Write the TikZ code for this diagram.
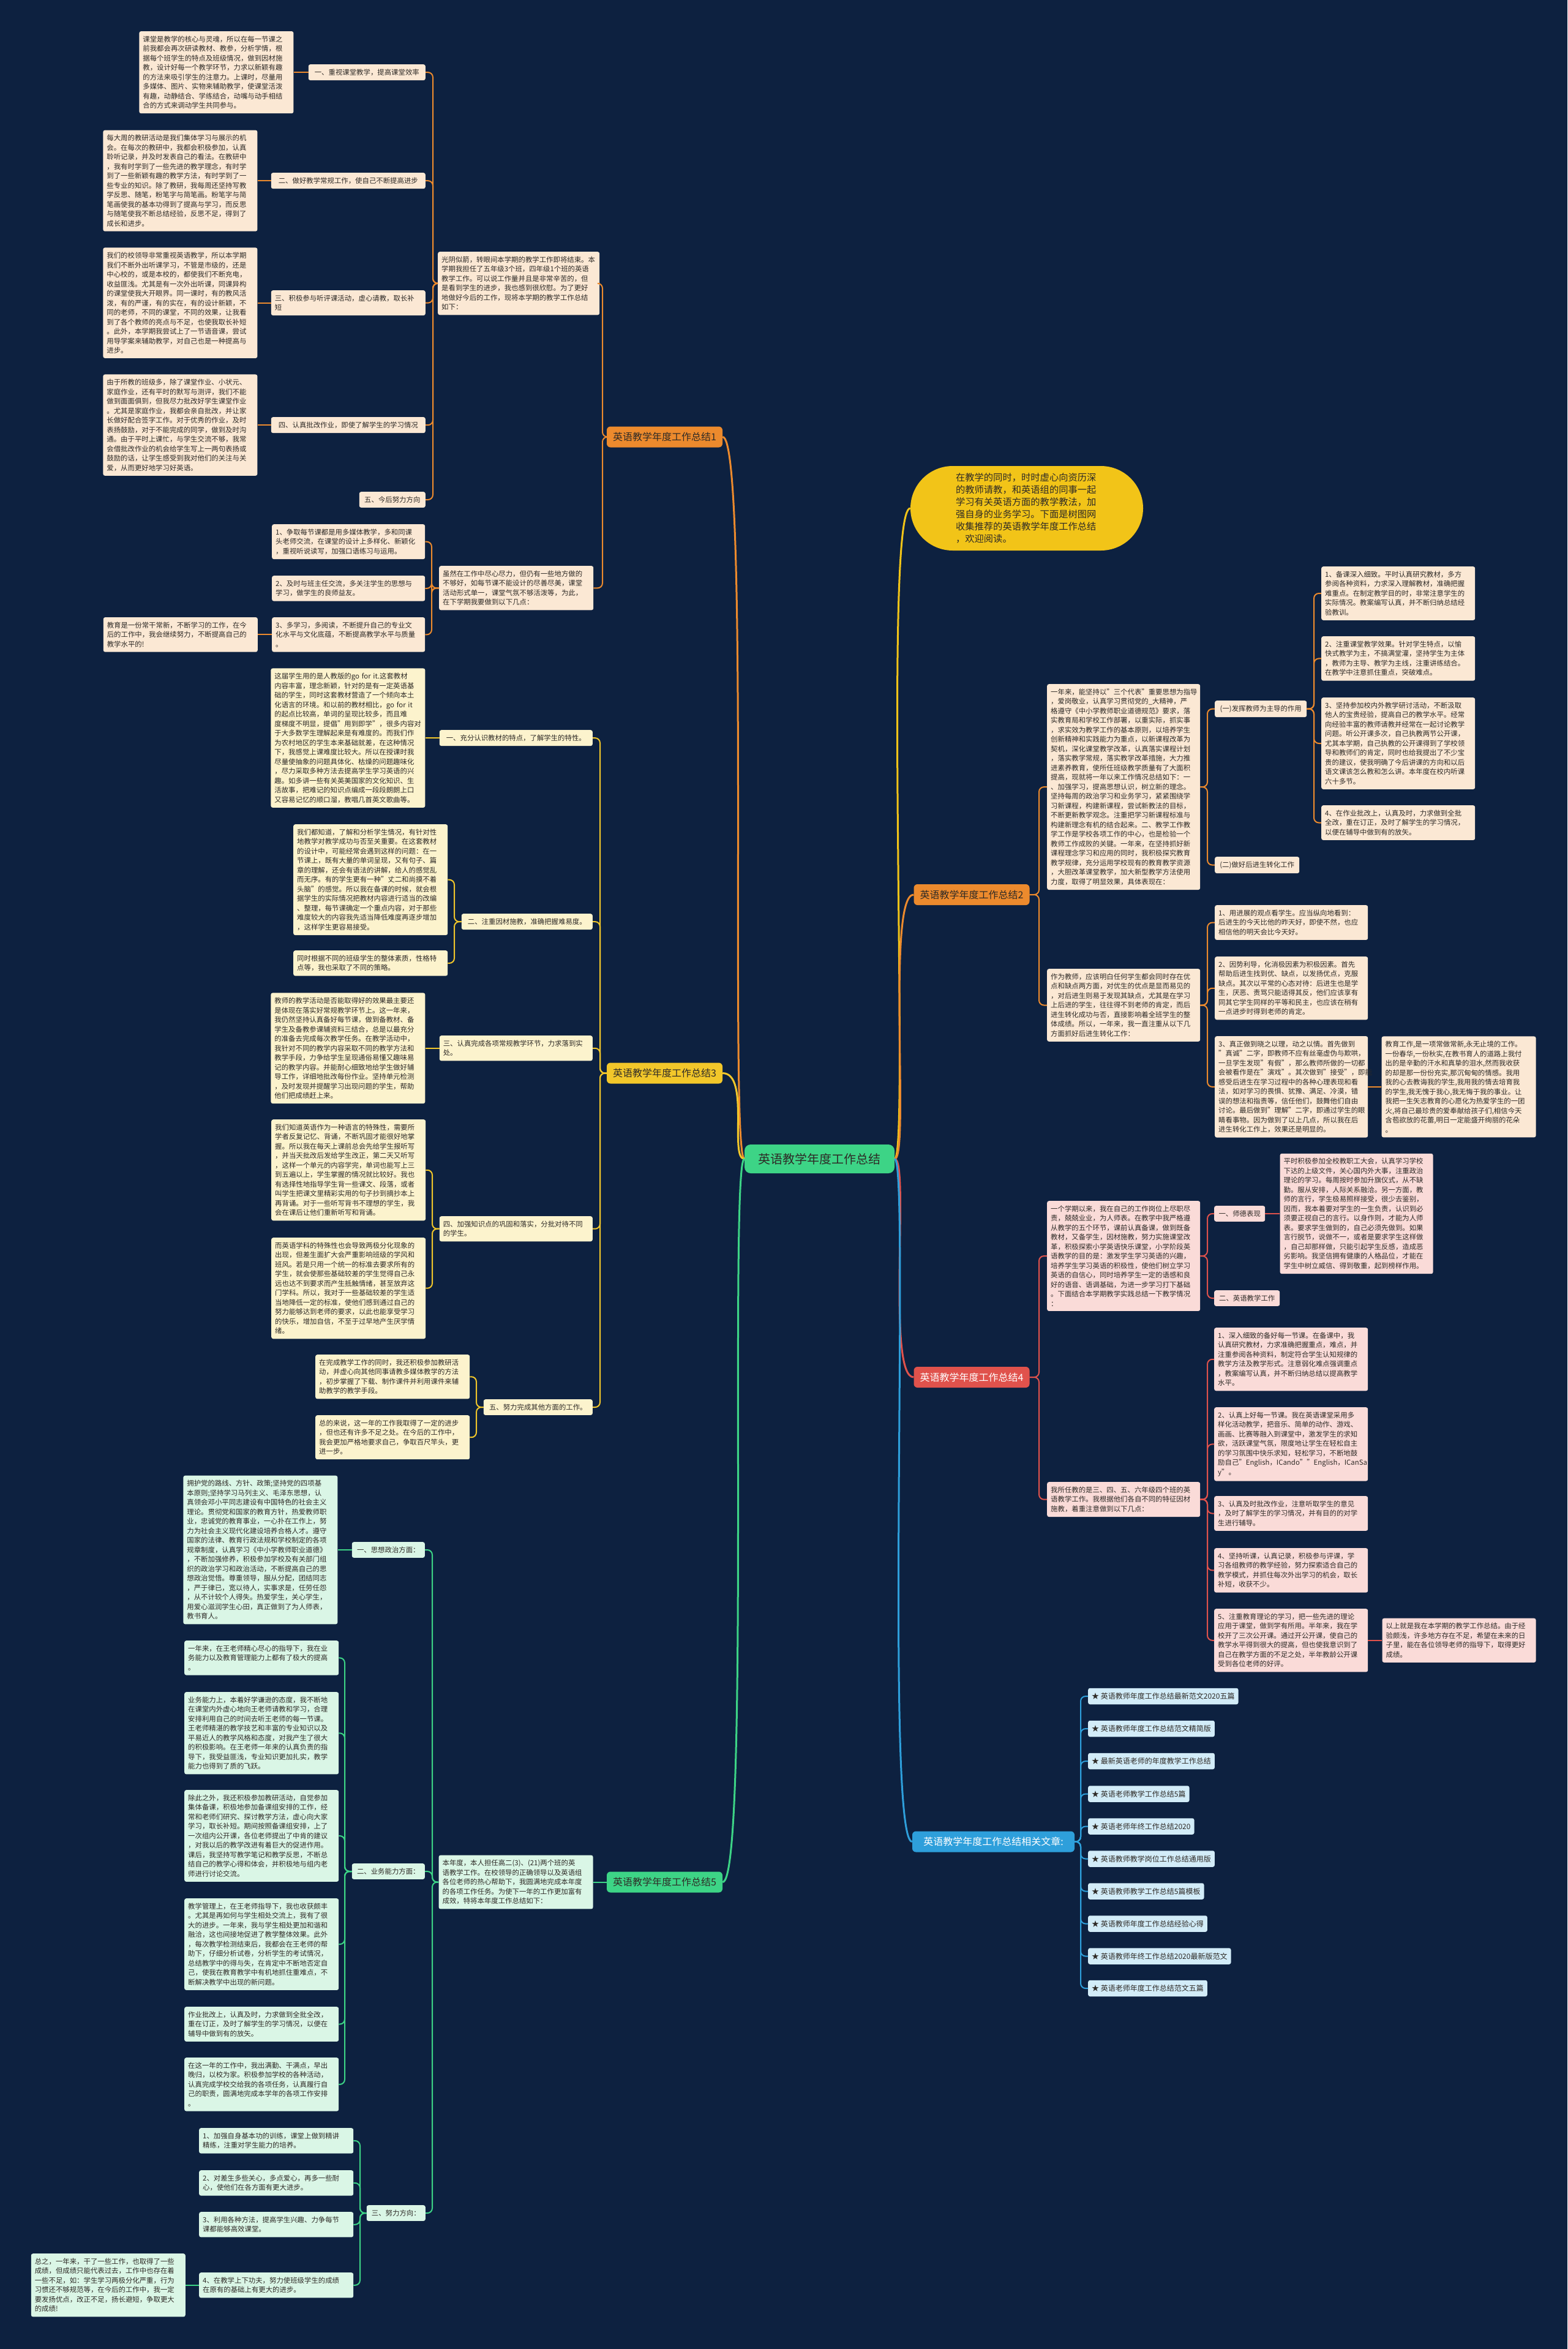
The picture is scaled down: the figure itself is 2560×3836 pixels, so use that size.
\documentclass[tikz,border=0pt]{standalone}
\usepackage{fontspec}
\setmainfont{Noto Sans CJK SC}
\usetikzlibrary{positioning}

\definecolor{bg}{HTML}{0D2140}
\definecolor{ink}{HTML}{2E2A26}
\definecolor{orng}{HTML}{EC8A2D}
\definecolor{ylw}{HTML}{F2C72A}
\definecolor{grn}{HTML}{3DD486}
\definecolor{rd}{HTML}{E0524C}
\definecolor{blu}{HTML}{2E9FDB}
\definecolor{pch}{HTML}{FBE8D4}
\definecolor{crm}{HTML}{FCF3CD}
\definecolor{mnt}{HTML}{DAF6E6}
\definecolor{pnk}{HTML}{FADBD8}
\definecolor{sky}{HTML}{D2ECF8}
\definecolor{notey}{HTML}{F2C418}

\newcommand\lf{\fontsize{11.4}{15.5}\selectfont}

\begin{document}
\begin{tikzpicture}[x=1pt, y=-1pt, font=\lf, text=ink]
    % Styles
    \tikzstyle{leaf} = [rounded corners=3pt, inner xsep=6pt, inner ysep=7.5pt, text width=240pt, align=left, anchor=north west]
    \tikzstyle{tag} = [rounded corners=3pt, inner xsep=6pt, inner ysep=7.5pt, align=center]
    \tikzstyle{head} = [rounded corners=6pt, minimum width=189pt, minimum height=34pt, inner sep=4pt, font=\fontsize{16}{19}\selectfont]
    \tikzstyle{rel} = [anchor=west, fill=sky, rounded corners=3pt, inner xsep=6pt, minimum height=26.5pt, font=\fontsize{12}{14}\selectfont]
    \tikzstyle{note} = [fill=notey, rounded corners=69pt, minimum width=380pt, minimum height=138pt, text width=232pt, align=left, font=\fontsize{15.3}{20}\selectfont]
    \tikzstyle{wire} = [line width=2pt, rounded corners=8pt]
    \tikzstyle{curve} = [line width=3pt]

    \useasboundingbox (0,0) rectangle (2560,3836);
    \fill[bg] (0,0) rectangle (2560,3836);

    % Root and branch heads
    \node[fill=grn, rounded corners=10pt, minimum width=245pt, minimum height=47pt, font=\fontsize{20}{24}\selectfont] (root) at (1338.5,1892.5) {英语教学年度工作总结};
    \node[note] (intro) at (1677,830) {在教学的同时，时时虚心向资历深\\的教师请教，和英语组的同事一起\\学习有关英语方面的教学教法，加\\强自身的业务学习。下面是树图网\\收集推荐的英语教学年度工作总结\\，欢迎阅读。};
    \node[head, fill=orng] (b1) at (1085.5,713.5) {英语教学年度工作总结1};
    \node[head, fill=orng] (b2) at (1587,1461) {英语教学年度工作总结2};
    \node[head, fill=ylw] (b3) at (1085.5,1752.5) {英语教学年度工作总结3};
    \node[head, fill=rd, text=white] (b4) at (1587,2249) {英语教学年度工作总结4};
    \node[head, fill=grn] (b5) at (1085.5,3073.5) {英语教学年度工作总结5};
    \node[head, fill=blu, text=white, minimum width=265pt] (b6) at (1622.5,3007.5) {英语教学年度工作总结相关文章:};

    % Branch 1
    \node[leaf, fill=pch, text width=252pt] (b1intro) at (715,411) {光阴似箭，转眼间本学期的教学工作即将结束。本\\学期我担任了五年级3个班，四年级1个班的英语\\教学工作。可以说工作量并且是非常辛苦的，但\\是看到学生的进步，我也感到很欣慰。为了更好\\地做好今后的工作，现将本学期的教学工作总结\\如下：};
    \node[leaf, fill=pch] (b1plan) at (717,924) {虽然在工作中尽心尽力，但仍有一些地方做的\\不够好，如每节课不能设计的尽善尽美，课堂\\活动形式单一，课堂气氛不够活泼等，为此，\\在下学期我要做到以下几点：};
    \node[tag, fill=pch, anchor=north east, minimum width=191pt] (b1s1) at (695,105) {一、重视课堂教学，提高课堂效率};
    \node[tag, fill=pch, anchor=north east, minimum width=252pt] (b1s2) at (695,282) {二、做好教学常规工作，使自己不断提高进步};
    \node[leaf, fill=pch, anchor=north east] (b1s3) at (695,474) {三、积极参与听评课活动，虚心请教，取长补\\短};
    \node[tag, fill=pch, anchor=north east, minimum width=252pt] (b1s4) at (695,681) {四、认真批改作业，即使了解学生的学习情况};
    \node[tag, fill=pch, anchor=north east, minimum width=108pt] (b1s5) at (695,803) {五、今后努力方向};
    \node[leaf, fill=pch, left=24pt of b1s1] (b1t1) {课堂是教学的核心与灵魂，所以在每一节课之\\前我都会再次研读教材、教参，分析学情，根\\据每个班学生的特点及班级情况，做到因材施\\教，设计好每一个教学环节，力求以新颖有趣\\的方法来吸引学生的注意力。上课时，尽量用\\多媒体、图片、实物来辅助教学，使课堂活泼\\有趣，动静结合、学练结合，动嘴与动手相结\\合的方式来调动学生共同参与。};
    \node[leaf, fill=pch, left=22pt of b1s2] (b1t2) {每大周的教研活动是我们集体学习与展示的机\\会。在每次的教研中，我都会积极参加，认真\\聆听记录，并及时发表自己的看法。在教研中\\，我有时学到了一些先进的教学理念，有时学\\到了一些新颖有趣的教学方法，有时学到了一\\些专业的知识。除了教研，我每周还坚持写教\\学反思、随笔，粉笔字与简笔画。粉笔字与简\\笔画使我的基本功得到了提高与学习，而反思\\与随笔使我不断总结经验，反思不足，得到了\\成长和进步。};
    \node[leaf, fill=pch, left=22pt of b1s3] (b1t3) {我们的校领导非常重视英语教学，所以本学期\\我们不断外出听课学习，不管是市级的，还是\\中心校的，或是本校的，都使我们不断充电，\\收益匪浅。尤其是有一次外出听课，同课异构\\的课堂使我大开眼界。同一课时，有的教风活\\泼，有的严谨，有的实在，有的设计新颖，不\\同的老师，不同的课堂，不同的效果，让我看\\到了各个教师的亮点与不足，也使我取长补短\\。此外，本学期我尝试上了一节语音课，尝试\\用导学案来辅助教学，对自己也是一种提高与\\进步。};
    \node[leaf, fill=pch, left=22pt of b1s4] (b1t4) {由于所教的班级多，除了课堂作业、小状元、\\家庭作业，还有平时的默写与测评，我们不能\\做到面面俱到，但我尽力批改好学生课堂作业\\。尤其是家庭作业，我都会亲自批改，并让家\\长做好配合签字工作。对于优秀的作业，及时\\表扬鼓励，对于不能完成的同学，做到及时沟\\通。由于平时上课忙，与学生交流不够，我常\\会借批改作业的机会给学生写上一两句表扬或\\鼓励的话，让学生感受到我对他们的关注与关\\爱，从而更好地学习好英语。};
    \node[leaf, fill=pch, text width=238pt] (b1p1) at (444,856) {1、争取每节课都是用多媒体教学，多和同课\\头老师交流，在课堂的设计上多样化、新颖化\\，重视听说读写，加强口语练习与运用。};
    \node[leaf, fill=pch, text width=238pt] (b1p2) at (444,940) {2、及时与班主任交流，多关注学生的思想与\\学习，做学生的良师益友。};
    \node[leaf, fill=pch, text width=238pt] (b1p3) at (444,1008) {3、多学习，多阅读，不断提升自己的专业文\\化水平与文化底蕴，不断提高教学水平与质量\\。};
    \node[leaf, fill=pch, left=23pt of b1p3] (b1end) {教育是一份常干常新，不断学习的工作，在今\\后的工作中，我会继续努力，不断提高自己的\\教学水平的!};

    % Branch 3
    \node[tag, fill=crm, anchor=north east, minimum width=250pt] (b3s1) at (968,1192) {一、充分认识教材的特点，了解学生的特性。};
    \node[tag, fill=crm, anchor=north east, minimum width=214pt] (b3s2) at (968,1492) {二、注重因材施教，准确把握难易度。};
    \node[leaf, fill=crm, anchor=north east, text width=238pt] (b3s3) at (968,1691) {三、认真完成各项常规教学环节，力求落到实\\处。};
    \node[leaf, fill=crm, anchor=north east, text width=238pt] (b3s4) at (968,1986) {四、加强知识点的巩固和落实，分批对待不同\\的学生。};
    \node[tag, fill=crm, anchor=north east, minimum width=178pt] (b3s5) at (968,2285) {五、努力完成其他方面的工作。};
    \node[leaf, fill=crm, left=23pt of b3s1] (b3t1) {这届学生用的是人教版的go for it.这套教材\\内容丰富，理念新颖，针对的是有一定英语基\\础的学生，同时这套教材营造了一个倾向本土\\化语言的环境。和以前的教材相比，go for it\\ 的起点比较高，单词的呈现比较多，而且难\\度梯度不明显，提倡"用到即学"，很多内容对\\于大多数学生理解起来是有难度的。而我们作\\为农村地区的学生本来基础就差，在这种情况\\下，我感觉上课难度比较大。所以在授课时我\\尽量使抽象的问题具体化、枯燥的问题趣味化\\，尽力采取多种方法去提高学生学习英语的兴\\趣。如多讲一些有关英美国家的文化知识、生\\活故事，把难记的知识点编成一段段朗朗上口\\又容易记忆的顺口溜，教唱几首英文歌曲等。};
    \node[leaf, fill=crm] (b3t2a) at (479,1346) {我们都知道，了解和分析学生情况，有针对性\\地教学对教学成功与否至关重要。在这套教材\\的设计中，可能经常会遇到这样的问题：在一\\节课上，既有大量的单词呈现，又有句子、篇\\章的理解，还会有语法的讲解，给人的感觉乱\\而无序。有的学生更有一种"丈二和尚摸不着\\头脑"的感觉。所以我在备课的时候，就会根\\据学生的实际情况把教材内容进行适当的改编\\、整理，每节课确定一个重点内容，对于那些\\难度较大的内容我先适当降低难度再逐步增加\\，这样学生更容易接受。};
    \node[leaf, fill=crm] (b3t2b) at (479,1552) {同时根据不同的班级学生的整体素质，性格特\\点等，我也采取了不同的策略。};
    \node[leaf, fill=crm, left=23pt of b3s3] (b3t3) {教师的教学活动是否能取得好的效果最主要还\\是体现在落实好常规教学环节上。这一年来，\\我仍然坚持认真备好每节课，做到备教材、备\\学生及备教参课辅资料三结合，总是以最充分\\的准备去完成每次教学任务。在教学活动中，\\我针对不同的教学内容采取不同的教学方法和\\教学手段，力争给学生呈现通俗易懂又趣味易\\记的教学内容。并能耐心细致地给学生做好辅\\导工作，详细地批改每份作业。坚持单元检测\\，及时发现并提醒学习出现问题的学生，帮助\\他们把成绩赶上来。};
    \node[leaf, fill=crm] (b3t4a) at (443,1828) {我们知道英语作为一种语言的特殊性，需要所\\学者反复记忆、背诵，不断巩固才能很好地掌\\握。所以我在每天上课前总会先给学生报听写\\，并当天批改后发给学生改正，第二天又听写\\，这样一个单元的内容学完，单词也能写上三\\到五遍以上，学生掌握的情况就比较好。我也\\有选择性地指导学生背一些课文、段落，或者\\叫学生把课文里精彩实用的句子抄到摘抄本上\\再背诵。对于一些听写背书不理想的学生，我\\会在课后让他们重新听写和背诵。};
    \node[leaf, fill=crm] (b3t4b) at (443,2021) {而英语学科的特殊性也会导致两极分化现象的\\出现，但差生面扩大会严重影响班级的学风和\\班风。若是只用一个统一的标准去要求所有的\\学生，就会使那些基础较差的学生觉得自己永\\远也达不到要求而产生抵触情绪，甚至放弃这\\门学科。所以，我对于一些基础较差的学生适\\当地降低一定的标准，使他们感到通过自己的\\努力能够达到老师的要求，以此也能享受学习\\的快乐，增加自信，不至于过早地产生厌学情\\绪。};
    \node[leaf, fill=crm] (b3t5a) at (515,2212) {在完成教学工作的同时，我还积极参加教研活\\动，并虚心向其他同事请教多媒体教学的方法\\，初步掌握了下载、制作课件并利用课件来辅\\助教学的教学手段。};
    \node[leaf, fill=crm] (b3t5b) at (515,2311) {总的来说，这一年的工作我取得了一定的进步\\，但也还有许多不足之处。在今后的工作中，\\我会更加严格地要求自己，争取百尺竿头，更\\进一步。};

    % Branch 5
    \node[leaf, fill=mnt, left=22pt of b5] (b5intro) {本年度，本人担任高二(3)、(21)两个班的英\\语教学工作。在校领导的正确领导以及英语组\\各位老师的热心帮助下，我圆满地完成本年度\\的各项工作任务。为使下一年的工作更加富有\\成效，特将本年度工作总结如下：};
    \node[tag, fill=mnt, anchor=north east, minimum width=119pt] (b5s1) at (694,2518) {一、思想政治方面：};
    \node[tag, fill=mnt, anchor=north east, minimum width=119pt] (b5s2) at (694,3043) {二、业务能力方面：};
    \node[tag, fill=mnt, anchor=north east, minimum width=96pt] (b5s3) at (695,3601) {三、努力方向：};
    \node[leaf, fill=mnt, left=23pt of b5s1] (b5t1) {拥护党的路线、方针、政策;坚持党的四项基\\本原则;坚持学习马列主义、毛泽东思想，认\\真领会邓小平同志建设有中国特色的社会主义\\理论。贯彻党和国家的教育方针，热爱教师职\\业，忠诚党的教育事业，一心扑在工作上，努\\力为社会主义现代化建设培养合格人才。遵守\\国家的法律、教育行政法规和学校制定的各项\\规章制度，认真学习《中小学教师职业道德》\\，不断加强修养，积极参加学校及有关部门组\\织的政治学习和政治活动，不断提高自己的思\\想政治觉悟。尊重领导，服从分配，团结同志\\，严于律已，宽以待人，实事求是，任劳任怨\\，从不计较个人得失。热爱学生，关心学生，\\用爱心滋润学生心田，真正做到了为人师表，\\教书育人。};
    \node[leaf, fill=mnt] (b5t2a) at (301,2679) {一年来，在王老师精心尽心的指导下，我在业\\务能力以及教育管理能力上都有了极大的提高\\。};
    \node[leaf, fill=mnt] (b5t2b) at (301,2763) {业务能力上，本着好学谦逊的态度，我不断地\\在课堂内外虚心地向王老师请教和学习，合理\\安排利用自己的时间去听王老师的每一节课。\\王老师精湛的教学技艺和丰富的专业知识以及\\平易近人的教学风格和态度，对我产生了很大\\的积极影响。在王老师一年来的认真负责的指\\导下，我受益匪浅，专业知识更加扎实，教学\\能力也得到了质的飞跃。};
    \node[leaf, fill=mnt] (b5t2c) at (301,2923) {除此之外，我还积极参加教研活动，自觉参加\\集体备课，积极地参加备课组安排的工作，经\\常和老师们研究、探讨教学方法，虚心向大家\\学习，取长补短。期间按照备课组安排，上了\\一次组内公开课，各位老师提出了中肯的建议\\，对我以后的教学改进有着巨大的促进作用。\\课后，我坚持写教学笔记和教学反思，不断总\\结自己的教学心得和体会，并积极地与组内老\\师进行讨论交流。};
    \node[leaf, fill=mnt] (b5t2d) at (301,3100) {教学管理上，在王老师指导下，我也收获颇丰\\。尤其是再如何与学生相处交流上，我有了很\\大的进步。一年来，我与学生相处更加和谐和\\融洽，这也间接地促进了教学整体效果。此外\\，每次教学检测结束后，我都会在王老师的帮\\助下，仔细分析试卷，分析学生的考试情况，\\总结教学中的得与失，在肯定中不断地否定自\\己，使我在教育教学中有机地抓住重难点，不\\断解决教学中出现的新问题。};
    \node[leaf, fill=mnt] (b5t2e) at (301,3277) {作业批改上，认真及时，力求做到全批全改，\\重在订正，及时了解学生的学习情况，以便在\\辅导中做到有的放矢。};
    \node[leaf, fill=mnt] (b5t2f) at (301,3360) {在这一年的工作中，我出满勤、干满点，早出\\晚归，以校为家。积极参加学校的各种活动，\\认真完成学校交给我的各项任务，认真履行自\\己的职责，圆满地完成本学年的各项工作安排\\。};
    \node[leaf, fill=mnt] (b5p1) at (325,3475) {1、加强自身基本功的训练，课堂上做到精讲\\精练，注重对学生能力的培养。};
    \node[leaf, fill=mnt] (b5p2) at (325,3544) {2、对差生多些关心，多点爱心，再多一些耐\\心，使他们在各方面有更大进步。};
    \node[leaf, fill=mnt] (b5p3) at (325,3612) {3、利用各种方法，提高学生兴趣、力争每节\\课都能够高效课堂。};
    \node[leaf, fill=mnt] (b5p4) at (325,3711) {4、在教学上下功夫，努力使班级学生的成绩\\在原有的基础上有更大的进步。};
    \node[leaf, fill=mnt, left=22pt of b5p4] (b5end) {总之，一年来，干了一些工作，也取得了一些\\成绩，但成绩只能代表过去，工作中也存在着\\一些不足，如：学生学习两极分化严重，行为\\习惯还不够规范等，在今后的工作中，我一定\\要发扬优点，改正不足，扬长避短，争取更大\\的成绩!};

    % Branch 2
    \node[leaf, fill=pch, text width=238pt] (b2introa) at (1710,1117) {一年来，能坚持以"三个代表"重要思想为指导\\，爱岗敬业，认真学习贯彻党的\_大精神，严\\格遵守《中小学教师职业道德规范》要求，落\\实教育局和学校工作部署，以重实际，抓实事\\，求实效为教学工作的基本原则，以培养学生\\创新精神和实践能力为重点，以新课程改革为\\契机，深化课堂教学改革，认真落实课程计划\\，落实教学常规，落实教学改革措施，大力推\\进素养教育，使所任班级教学质量有了大面积\\提高，现就将一年以来工作情况总结如下：一\\、加强学习，提高思想认识，树立新的理念。\\坚持每周的政治学习和业务学习，紧紧围绕学\\习新课程，构建新课程，尝试新教法的目标，\\不断更新教学观念。注重把学习新课程标准与\\构建新理念有机的结合起来。二、教学工作教\\学工作是学校各项工作的中心，也是检验一个\\教师工作成败的关键。一年来，在坚持抓好新\\课程理念学习和应用的同时，我积极探究教育\\教学规律，充分运用学校现有的教育教学资源\\，大胆改革课堂教学，加大新型教学方法使用\\力度，取得了明显效果，具体表现在：};
    \node[leaf, fill=pch, text width=238pt] (b2introb) at (1710,1582) {作为教师，应该明白任何学生都会同时存在优\\点和缺点两方面，对优生的优点是显而易见的\\，对后进生则易于发现其缺点，尤其是在学习\\上后进的学生，往往得不到老师的肯定，而后\\进生转化成功与否，直接影响着全班学生的整\\体成绩。所以，一年来，我一直注重从以下几\\方面抓好后进生转化工作：};
    \node[tag, fill=pch, anchor=north west, minimum width=150pt] (b2s1) at (1984,1144) {(一)发挥教师为主导的作用};
    \node[tag, fill=pch, anchor=north west, minimum width=138pt] (b2s2) at (1984,1399) {(二)做好后进生转化工作};
    \node[leaf, fill=pch, text width=239pt] (b2t1) at (2158,925) {1、备课深入细致。平时认真研究教材，多方\\参阅各种资料，力求深入理解教材，准确把握\\难重点。在制定教学目的时，非常注意学生的\\实际情况。教案编写认真，并不断归纳总结经\\验教训。};
    \node[leaf, fill=pch, text width=239pt] (b2t2) at (2158,1039) {2、注重课堂教学效果。针对学生特点，以愉\\快式教学为主，不搞满堂灌，坚持学生为主体\\，教师为主导、教学为主线，注重讲练结合。\\在教学中注意抓住重点，突破难点。};
    \node[leaf, fill=pch, text width=239pt] (b2t3) at (2158,1139) {3、坚持参加校内外教学研讨活动，不断汲取\\他人的宝贵经验，提高自己的教学水平。经常\\向经验丰富的教师请教并经常在一起讨论教学\\问题。听公开课多次，自己执教两节公开课，\\尤其本学期，自己执教的公开课得到了学校领\\导和教师们的肯定，同时也给我提出了不少宝\\贵的建议，使我明确了今后讲课的方向和以后\\语文课该怎么教和怎么讲。本年度在校内听课\\六十多节。};
    \node[leaf, fill=pch, text width=239pt] (b2t4) at (2158,1315) {4、在作业批改上，认真及时，力求做到全批\\全改，重在订正，及时了解学生的学习情况，\\以便在辅导中做到有的放矢。};
    \node[leaf, fill=pch, text width=238pt] (b2u1) at (1984,1478) {1、用进展的观点看学生。应当纵向地看到：\\后进生的今天比他的昨天好，即使不然，也应\\相信他的明天会比今天好。};
    \node[leaf, fill=pch, text width=238pt] (b2u2) at (1984,1562) {2、因势利导，化消极因素为积极因素。首先\\帮助后进生找到优、缺点，以发扬优点，克服\\缺点。其次以平常的心态对待：后进生也是学\\生，厌恶、责骂只能适得其反，他们应该享有\\同其它学生同样的平等和民主，也应该在稍有\\一点进步时得到老师的肯定。};
    \node[leaf, fill=pch, text width=238pt] (b2u3) at (1984,1692) {3、真正做到晓之以理，动之以情。首先做到\\"真诚"二字，即教师不应有丝毫虚伪与欺哄，\\一旦学生发现"有假"，那么教师所做的一切都\\会被看作是在"演戏"。其次做到"接受"，即能\\感受后进生在学习过程中的各种心理表现和看\\法，如对学习的畏惧、犹豫、满足、冷漠，错\\误的想法和指责等，信任他们，鼓舞他们自由\\讨论。最后做到"理解"二字，即通过学生的眼\\睛看事物。因为做到了以上几点，所以我在后\\进生转化工作上，效果还是明显的。};
    \node[leaf, fill=pch, right=22pt of b2u3] (b2end) {教育工作,是一项常做常新,永无止境的工作。\\一份春华,一份秋实,在教书育人的道路上我付\\出的是辛勤的汗水和真挚的泪水,然而我收获\\的却是那一份份充实,那沉甸甸的情感。我用\\我的心去教诲我的学生,我用我的情去培育我\\的学生,我无愧于我心,我无悔于我的事业。让\\我把一生矢志教育的心愿化为热爱学生的一团\\火,将自己最珍贵的爱奉献给孩子们,相信今天\\含苞欲放的花蕾,明日一定能盛开绚丽的花朵\\。};

    % Branch 4
    \node[leaf, fill=pnk, text width=238pt] (b4intro) at (1710,1961) {一个学期以来，我在自己的工作岗位上尽职尽\\责，兢兢业业，为人师表。在教学中我严格遵\\从教学的五个环节，课前认真备课，做到既备\\教材，又备学生，因材施教，努力实施课堂改\\革，积极探索小学英语快乐课堂，小学阶段英\\语教学的目的是：激发学生学习英语的兴趣，\\培养学生学习英语的积极性，使他们树立学习\\英语的自信心，同时培养学生一定的语感和良\\好的语音、语调基础，为进一步学习打下基础\\。下面结合本学期教学实践总结一下教学情况\\：};
    \node[leaf, fill=pnk, text width=238pt] (b4introb) at (1710,2420) {我所任教的是三、四、五、六年级四个班的英\\语教学工作。我根据他们各自不同的特征因材\\施教，着重注意做到以下几点：};
    \node[tag, fill=pnk, anchor=north west, minimum width=83pt] (b4s1) at (1983,1969) {一、师德表现};
    \node[tag, fill=pnk, anchor=north west, minimum width=107pt] (b4s2) at (1983,2107) {二、英语教学工作};
    \node[leaf, fill=pnk, text width=238pt, right=24pt of b4s1] (b4t1) {平时积极参加全校教职工大会，认真学习学校\\下达的上级文件，关心国内外大事，注重政治\\理论的学习。每周按时参加升旗仪式，从不缺\\勤。服从安排，人际关系融洽。另一方面，教\\师的言行，学生极易照样接受，很少去鉴别，\\因而，我本着要对学生的一生负责，认识到必\\须要正视自己的言行。以身作则，才能为人师\\表。要求学生做到的，自己必须先做到。如果\\言行脱节，说做不一，或者是要求学生这样做\\，自己却那样做，只能引起学生反感，造成恶\\劣影响。我坚信拥有健康的人格品位，才能在\\学生中树立威信、得到敬重，起到榜样作用。};
    \node[leaf, fill=pnk, text width=239pt] (b4p1) at (1983,2168) {1、深入细致的备好每一节课。在备课中，我\\认真研究教材，力求准确把握重点，难点，并\\注重参阅各种资料，制定符合学生认知规律的\\教学方法及教学形式。注意弱化难点强调重点\\，教案编写认真，并不断归纳总结以提高教学\\水平。};
    \node[leaf, fill=pnk, text width=239pt] (b4p2) at (1983,2298) {2、认真上好每一节课。我在英语课堂采用多\\样化活动教学，把音乐、简单的动作、游戏、\\画画、比赛等融入到课堂中，激发学生的求知\\欲，活跃课堂气氛，限度地让学生在轻松自主\\的学习氛围中快乐求知，轻松学习，不断地鼓\\励自己"English，ICando""English，ICanSa\\y"。};
    \node[leaf, fill=pnk, text width=239pt] (b4p3) at (1983,2443) {3、认真及时批改作业，注意听取学生的意见\\，及时了解学生的学习情况，并有目的的对学\\生进行辅导。};
    \node[leaf, fill=pnk, text width=239pt] (b4p4) at (1983,2528) {4、坚持听课，认真记录，积极参与评课，学\\习各组教师的教学经验，努力探索适合自己的\\教学模式，并抓住每次外出学习的机会，取长\\补短，收获不少。};
    \node[leaf, fill=pnk, text width=239pt] (b4p5) at (1983,2627) {5、注重教育理论的学习，把一些先进的理论\\应用于课堂，做到学有所用。半年来，我在学\\校开了三次公开课。通过开公开课，使自己的\\教学水平得到很大的提高，但也使我意识到了\\自己在教学方面的不足之处，半年教龄公开课\\受到各位老师的好评。};
    \node[leaf, fill=pnk, text width=239pt, right=23pt of b4p5] (b4end) {以上就是我在本学期的教学工作总结。由于经\\验颇浅，许多地方存在不足，希望在未来的日\\子里，能在各位领导老师的指导下，取得更好\\成绩。};

    % Branch 6
    \node[rel] (r1) at (1777,2770) {★ 英语教师年度工作总结最新范文2020五篇};
    \node[rel] (r2) at (1777,2823) {★ 英语教师年度工作总结范文精简版};
    \node[rel] (r3) at (1777,2876) {★ 最新英语老师的年度教学工作总结};
    \node[rel] (r4) at (1777,2929.5) {★ 英语老师教学工作总结5篇};
    \node[rel] (r5) at (1777,2982.5) {★ 英语老师年终工作总结2020};
    \node[rel] (r6) at (1777,3035.5) {★ 英语教师教学岗位工作总结通用版};
    \node[rel] (r7) at (1777,3088.5) {★ 英语教师教学工作总结5篇模板};
    \node[rel] (r8) at (1777,3141.5) {★ 英语教师年度工作总结经验心得};
    \node[rel] (r9) at (1777,3194.5) {★ 英语教师年终工作总结2020最新版范文};
    \node[rel] (r10) at (1777,3247) {★ 英语老师年度工作总结范文五篇};

    % Curves from the root
    \draw[curve, orng] (root.west) .. controls +(-25,0) and +(45,0) .. (b1.east);
    \draw[curve, ylw] (root.west) .. controls +(-25,0) and +(45,0) .. (b3.east);
    \draw[curve, grn] (root.west) .. controls +(-25,0) and +(45,0) .. (b5.east);
    \draw[curve, notey] (root.east) .. controls +(25,0) and +(-45,0) .. (intro.west);
    \draw[curve, orng] (root.east) .. controls +(25,0) and +(-45,0) .. (b2.west);
    \draw[curve, rd] (root.east) .. controls +(25,0) and +(-45,0) .. (b4.west);
    \draw[curve, blu] (root.east) .. controls +(25,0) and +(-45,0) .. (b6.west);

    % Bus coordinates
    \coordinate (bus1) at (984,0);
    \coordinate (bus1a) at (707,0);
    \coordinate (bus1b) at (705,0);
    \coordinate (bus3) at (980,0);
    \coordinate (bus3b) at (742,0);
    \coordinate (bus3d) at (706,0);
    \coordinate (bus3e) at (778,0);
    \coordinate (bus5) at (706,0);
    \coordinate (bus5b) at (563,0);
    \coordinate (bus5c) at (588,0);
    \coordinate (bus2) at (1697,0);
    \coordinate (bus2a) at (1972,0);
    \coordinate (bus2c) at (2146,0);
    \coordinate (bus4) at (1697,0);
    \coordinate (bus4a) at (1972,0);
    \coordinate (bus6) at (1765,0);

    % Branch 1 wires
    \draw[wire, orng] (b1.west) -- (b1.west -| bus1) |- (b1intro.east);
    \draw[wire, orng] (b1.west) -- (b1.west -| bus1) |- (b1plan.east);
    \draw[wire, orng] (b1intro.west) -- (b1intro.west -| bus1a) |- (b1s1.east);
    \draw[wire, orng] (b1intro.west) -- (b1intro.west -| bus1a) |- (b1s2.east);
    \draw[wire, orng] (b1intro.west) -- (b1intro.west -| bus1a) |- (b1s3.east);
    \draw[wire, orng] (b1intro.west) -- (b1intro.west -| bus1a) |- (b1s4.east);
    \draw[wire, orng] (b1intro.west) -- (b1intro.west -| bus1a) |- (b1s5.east);
    \draw[wire, orng] (b1s1.west) -- (b1t1.east);
    \draw[wire, orng] (b1s2.west) -- (b1t2.east);
    \draw[wire, orng] (b1s3.west) -- (b1t3.east);
    \draw[wire, orng] (b1s4.west) -- (b1t4.east);
    \draw[wire, orng] (b1plan.west) -- (b1plan.west -| bus1b) |- (b1p1.east);
    \draw[wire, orng] (b1plan.west) -- (b1plan.west -| bus1b) |- (b1p2.east);
    \draw[wire, orng] (b1plan.west) -- (b1plan.west -| bus1b) |- (b1p3.east);
    \draw[wire, orng] (b1p3.west) -- (b1end.east);

    % Branch 3 wires
    \draw[wire, ylw] (b3.west) -- (b3.west -| bus3) |- (b3s1.east);
    \draw[wire, ylw] (b3.west) -- (b3.west -| bus3) |- (b3s2.east);
    \draw[wire, ylw] (b3.west) -- (b3.west -| bus3) |- (b3s3.east);
    \draw[wire, ylw] (b3.west) -- (b3.west -| bus3) |- (b3s4.east);
    \draw[wire, ylw] (b3.west) -- (b3.west -| bus3) |- (b3s5.east);
    \draw[wire, ylw] (b3s1.west) -- (b3t1.east);
    \draw[wire, ylw] (b3s2.west) -- (b3s2.west -| bus3b) |- (b3t2a.east);
    \draw[wire, ylw] (b3s2.west) -- (b3s2.west -| bus3b) |- (b3t2b.east);
    \draw[wire, ylw] (b3s3.west) -- (b3t3.east);
    \draw[wire, ylw] (b3s4.west) -- (b3s4.west -| bus3d) |- (b3t4a.east);
    \draw[wire, ylw] (b3s4.west) -- (b3s4.west -| bus3d) |- (b3t4b.east);
    \draw[wire, ylw] (b3s5.west) -- (b3s5.west -| bus3e) |- (b3t5a.east);
    \draw[wire, ylw] (b3s5.west) -- (b3s5.west -| bus3e) |- (b3t5b.east);

    % Branch 5 wires
    \draw[wire, grn] (b5.west) -- (b5intro.east);
    \draw[wire, grn] (b5intro.west) -- (b5intro.west -| bus5) |- (b5s1.east);
    \draw[wire, grn] (b5intro.west) -- (b5intro.west -| bus5) |- (b5s2.east);
    \draw[wire, grn] (b5intro.west) -- (b5intro.west -| bus5) |- (b5s3.east);
    \draw[wire, grn] (b5s1.west) -- (b5t1.east);
    \draw[wire, grn] (b5s2.west) -- (b5s2.west -| bus5b) |- (b5t2a.east);
    \draw[wire, grn] (b5s2.west) -- (b5s2.west -| bus5b) |- (b5t2b.east);
    \draw[wire, grn] (b5s2.west) -- (b5s2.west -| bus5b) |- (b5t2c.east);
    \draw[wire, grn] (b5s2.west) -- (b5s2.west -| bus5b) |- (b5t2d.east);
    \draw[wire, grn] (b5s2.west) -- (b5s2.west -| bus5b) |- (b5t2e.east);
    \draw[wire, grn] (b5s2.west) -- (b5s2.west -| bus5b) |- (b5t2f.east);
    \draw[wire, grn] (b5s3.west) -- (b5s3.west -| bus5c) |- (b5p1.east);
    \draw[wire, grn] (b5s3.west) -- (b5s3.west -| bus5c) |- (b5p2.east);
    \draw[wire, grn] (b5s3.west) -- (b5s3.west -| bus5c) |- (b5p3.east);
    \draw[wire, grn] (b5s3.west) -- (b5s3.west -| bus5c) |- (b5p4.east);
    \draw[wire, grn] (b5p4.west) -- (b5end.east);

    % Branch 2 wires
    \draw[wire, orng] (b2.east) -- (b2.east -| bus2) |- (b2introa.west);
    \draw[wire, orng] (b2.east) -- (b2.east -| bus2) |- (b2introb.west);
    \draw[wire, orng] (b2introa.east) -- (b2introa.east -| bus2a) |- (b2s1.west);
    \draw[wire, orng] (b2introa.east) -- (b2introa.east -| bus2a) |- (b2s2.west);
    \draw[wire, orng] (b2s1.east) -- (b2s1.east -| bus2c) |- (b2t1.west);
    \draw[wire, orng] (b2s1.east) -- (b2s1.east -| bus2c) |- (b2t2.west);
    \draw[wire, orng] (b2s1.east) -- (b2s1.east -| bus2c) |- (b2t3.west);
    \draw[wire, orng] (b2s1.east) -- (b2s1.east -| bus2c) |- (b2t4.west);
    \draw[wire, orng] (b2introb.east) -- (b2introb.east -| bus2a) |- (b2u1.west);
    \draw[wire, orng] (b2introb.east) -- (b2introb.east -| bus2a) |- (b2u2.west);
    \draw[wire, orng] (b2introb.east) -- (b2introb.east -| bus2a) |- (b2u3.west);
    \draw[wire, orng] (b2u3.east) -- (b2end.west);

    % Branch 4 wires
    \draw[wire, rd] (b4.east) -- (b4.east -| bus4) |- (b4intro.west);
    \draw[wire, rd] (b4.east) -- (b4.east -| bus4) |- (b4introb.west);
    \draw[wire, rd] (b4intro.east) -- (b4intro.east -| bus4a) |- (b4s1.west);
    \draw[wire, rd] (b4intro.east) -- (b4intro.east -| bus4a) |- (b4s2.west);
    \draw[wire, rd] (b4s1.east) -- (b4t1.west);
    \draw[wire, rd] (b4introb.east) -- (b4introb.east -| bus4a) |- (b4p1.west);
    \draw[wire, rd] (b4introb.east) -- (b4introb.east -| bus4a) |- (b4p2.west);
    \draw[wire, rd] (b4introb.east) -- (b4introb.east -| bus4a) |- (b4p3.west);
    \draw[wire, rd] (b4introb.east) -- (b4introb.east -| bus4a) |- (b4p4.west);
    \draw[wire, rd] (b4introb.east) -- (b4introb.east -| bus4a) |- (b4p5.west);
    \draw[wire, rd] (b4p5.east) -- (b4end.west);

    % Branch 6 wires
    \draw[wire, blu] (b6.east) -- (b6.east -| bus6) |- (r1.west);
    \draw[wire, blu] (b6.east) -- (b6.east -| bus6) |- (r2.west);
    \draw[wire, blu] (b6.east) -- (b6.east -| bus6) |- (r3.west);
    \draw[wire, blu] (b6.east) -- (b6.east -| bus6) |- (r4.west);
    \draw[wire, blu] (b6.east) -- (b6.east -| bus6) |- (r5.west);
    \draw[wire, blu] (b6.east) -- (b6.east -| bus6) |- (r6.west);
    \draw[wire, blu] (b6.east) -- (b6.east -| bus6) |- (r7.west);
    \draw[wire, blu] (b6.east) -- (b6.east -| bus6) |- (r8.west);
    \draw[wire, blu] (b6.east) -- (b6.east -| bus6) |- (r9.west);
    \draw[wire, blu] (b6.east) -- (b6.east -| bus6) |- (r10.west);

\end{tikzpicture}
\end{document}
